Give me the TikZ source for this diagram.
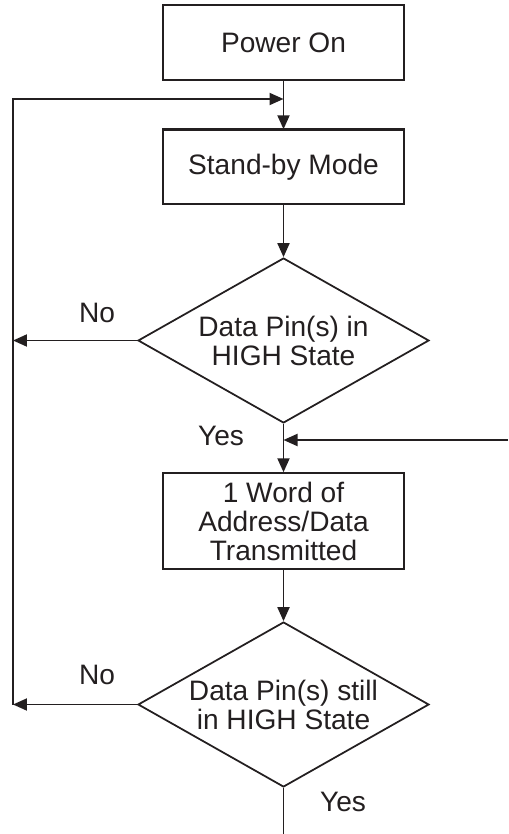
\documentclass[tikz,border=0pt]{standalone}
\usepackage{fontspec}
\setmainfont{Liberation Sans}
\usetikzlibrary{shapes.geometric,arrows.meta}
\definecolor{ink}{HTML}{231F20}
\newcommand{\chartfont}{\fontsize{16}{16.5}\selectfont}
\tikzset{>={Triangle[length=0.28cm,width=0.24cm]}}
\tikzset{%
    stepbox/.style={draw=ink, line width=0.85pt, minimum width=4.82cm,
        minimum height=1.5cm, inner sep=0pt, align=center, text=ink, font=\chartfont},
    testbox/.style={diamond, aspect=1.76, draw=ink, line width=1pt, minimum width=5.82cm,
        minimum height=3.3cm, inner sep=-1pt, align=center, text=ink, font=\chartfont},
    flow/.style={draw=ink, line width=1.1pt},
    tag/.style={text=ink, font=\chartfont, inner sep=0pt}
}

\begin{document}
\begin{tikzpicture}[x=0.02cm,y=-0.02cm]
\useasboundingbox (0,0) rectangle (508,834);

\node[stepbox] (power) at (283.5,42.5) {Power On};
\node[stepbox, minimum height=1.48cm] (standby) at (283.5,167) {Stand-by Mode};
\node[testbox] (pins) at (283.5,340.5) {Data Pin(s) in\\HIGH State};
\node[stepbox, minimum height=1.92cm] (word) at (283.5,521) {1 Word of\\Address/Data\\Transmitted};
\node[testbox] (still) at (283.5,704.5) {Data Pin(s) still\\in HIGH State};

\coordinate (merge) at (283.5,99);
\coordinate (railtop) at (13,99);
\coordinate (rail1) at (13,340.5);
\coordinate (rail2) at (13,704.5);
\coordinate (rejoin) at (283.5,440);
\coordinate (entry) at (508,440);
\coordinate (exit) at (283.5,834);

% thick top edge of the stand-by box
\draw[ink, line width=1.5pt] (standby.north west) -- (standby.north east);

\draw[flow,->] (power) -- (standby);
\draw[flow,->] (rail2) -- (railtop) -- (merge);
\draw[flow,->] (standby) -- (pins);
\draw[flow,->] (pins.west) -- (rail1);
\draw[flow,->] (pins) -- (word);
\draw[flow,->] (entry) -- (rejoin);
\draw[flow,->] (word) -- (still);
\draw[flow,->] (still.west) -- (rail2);
\draw[flow] (still.south) -- (exit);

\node[tag] (no1) at (97,313) {No};
\node[tag] (yes1) at (221,436) {Yes};
\node[tag] (no2) at (97,675) {No};
\node[tag] (yes2) at (343,802) {Yes};
\end{tikzpicture}
\end{document}
